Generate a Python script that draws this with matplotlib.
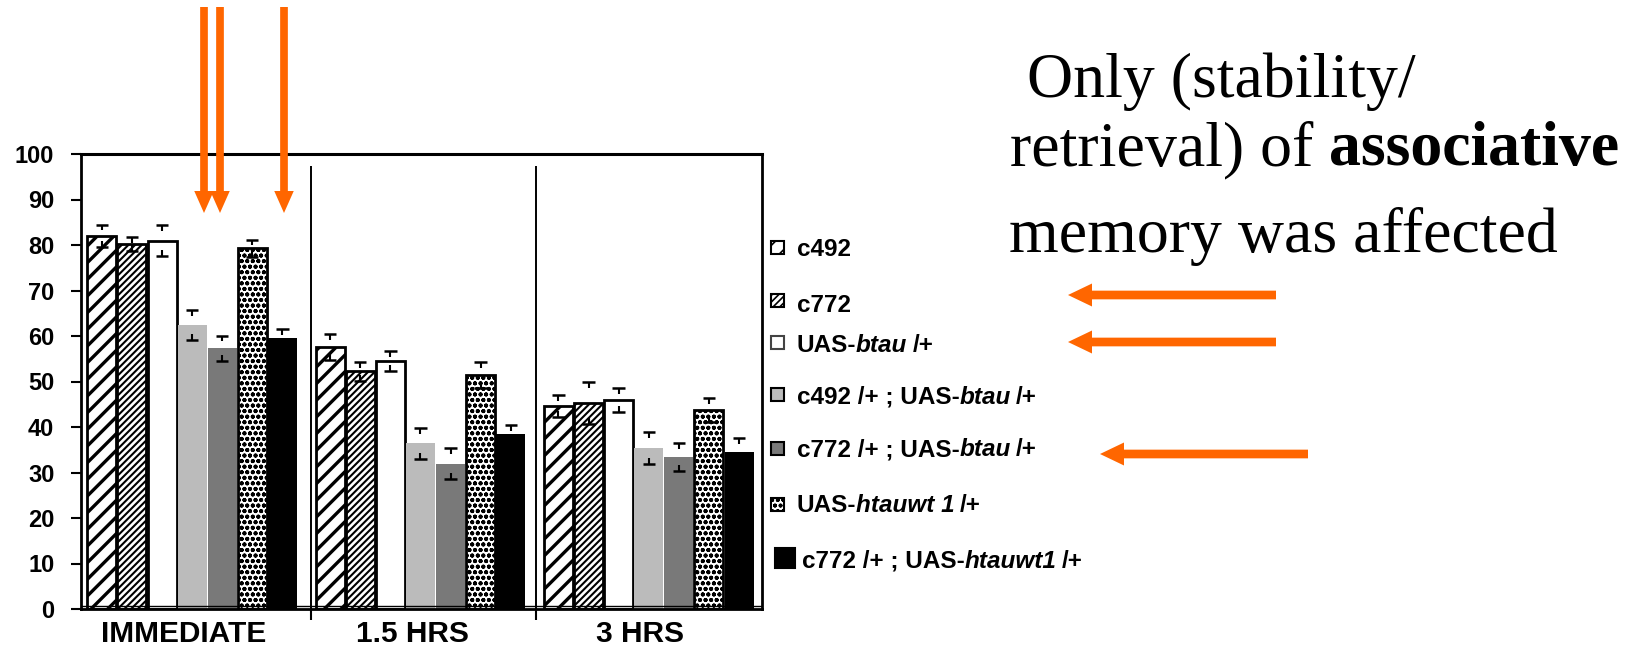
import numpy as np
import matplotlib
matplotlib.use("Agg")
import matplotlib.pyplot as plt
from matplotlib.patches import Rectangle, FancyArrow

plt.rcParams['font.family'] = ['Liberation Sans', 'DejaVu Sans']
plt.rcParams['hatch.linewidth'] = 1.8

# ---------------- data ----------------
groups = ["IMMEDIATE", "1.5 HRS", "3 HRS"]
yticks = [0, 10, 20, 30, 40, 50, 60, 70, 80, 90, 100]

c492 = [82.0, 57.6, 44.6]
c492_err = [2.5, 2.8, 2.4]
c772 = [80.2, 52.2, 45.3]
c772_err = [1.6, 2.0, 4.6]
uas_btau = [80.9, 54.5, 45.9]
uas_btau_err = [3.4, 2.1, 2.6]
c492_btau = [62.4, 36.4, 35.3]
c492_btau_err = [3.3, 3.4, 3.5]
c772_btau = [57.3, 31.9, 33.4]
c772_btau_err = [2.8, 3.4, 3.0]
uas_htau = [79.3, 51.4, 43.7]
uas_htau_err = [1.9, 2.9, 2.6]
c772_htau = [59.5, 38.4, 34.6]
c772_htau_err = [2.0, 2.0, 3.0]

values = [c492, c772, uas_btau, c492_btau, c772_btau, uas_htau, c772_htau]
errors = [c492_err, c772_err, uas_btau_err, c492_btau_err, c772_btau_err,
          uas_htau_err, c772_htau_err]

# legend label pieces: (text, italic?)
legend_parts = [
    [("c492", False)],
    [("c772", False)],
    [("UAS-", False), ("btau", True), (" /+", False)],
    [("c492 /+ ; UAS-", False), ("btau", True), (" /+", False)],
    [("c772 /+ ; UAS-", False), ("btau", True), (" /+", False)],
    [("UAS-", False), ("htauwt 1", True), (" /+", False)],
    [("c772 /+ ; UAS-", False), ("htauwt1", True), (" /+", False)],
]

# styles: facecolor, hatch, edgecolor, linewidth, hatch linewidth
styles = [
    ("white", "//", "black", 2.0, 2.4),
    ("white", "/////", "black", 2.0, 1.5),
    ("white", None, "black", 2.0, 1.0),
    ("#bbbbbb", None, "none", 0.0, 1.0),
    ("#797979", None, "none", 0.0, 1.0),
    ("white", "ooo", "black", 2.0, 1.3),
    ("black", None, "none", 0.0, 1.0),
]

W, H = 1635, 651
fig = plt.figure(figsize=(W / 100, H / 100), dpi=100)

# ---------------- main axes ----------------
L, R, T, B = 80.7, 762, 154, 609
ax = fig.add_axes([L / W, (H - B) / H, (R - L) / W, (B - T) / H])

nser = len(values)
pitch = 0.1318
bw = 0.127
x = np.arange(len(groups))
for i, (vals, errs) in enumerate(zip(values, errors)):
    fc, hatch, ec, lw, hlw = styles[i]
    pos = x + (i - (nser - 1) / 2) * pitch
    with plt.rc_context({'hatch.linewidth': hlw}):
        bars = ax.bar(pos, vals, width=bw, color=fc, hatch=hatch,
                      edgecolor=ec, linewidth=lw, zorder=2)
    for b in bars:
        if hasattr(b, "set_hatch_linewidth"):
            b.set_hatch_linewidth(hlw)
        else:
            b._hatch_linewidth = hlw
    vals = np.asarray(vals)
    errs = np.asarray(errs)
    capw = 0.027
    stem = 1.3
    top = vals + errs
    low = vals - errs
    ax.hlines(top, pos - capw, pos + capw, color="black", lw=1.8, zorder=4)
    ax.vlines(pos, top - stem, top, color="black", lw=1.5, zorder=4)
    ax.hlines(low, pos - capw, pos + capw, color="black", lw=1.8, zorder=4)
    ax.vlines(pos, low, low + stem, color="black", lw=1.5, zorder=4)

ax.set_xlim(-0.488, 2.496)
ax.set_ylim(0, 100)

# group dividers
ax.vlines([0.52, 1.505], 0, 97.4, color="black", lw=1.4, zorder=3)
ax.axhline(0.75, color="black", lw=1.0, zorder=3)

ax.set_yticks(yticks)
ax.set_yticklabels([str(v) for v in yticks], fontsize=17, fontweight="bold")
ax.tick_params(axis="y", direction="out", length=7, width=1.5, pad=12)

ax.set_xticks([-0.036, 0.967, 1.961])
ax.set_xticklabels(groups, fontsize=21.5, fontweight="bold")
ax.tick_params(axis="x", which="major", length=0, pad=8)
ax.set_xticks([0.52, 1.505], minor=True)
ax.tick_params(axis="x", which="minor", direction="out", length=8, width=1.5)

for s in ax.spines.values():
    s.set_linewidth(2.0)
ax.spines["top"].set_linewidth(2.2)

# ---------------- overlay (pixel coordinates) ----------------
ov = fig.add_axes([0, 0, 1, 1], zorder=10)
ov.set_xlim(0, W)
ov.set_ylim(H, 0)
ov.axis("off")
ov.patch.set_alpha(0)

fig.canvas.draw()
renderer = fig.canvas.get_renderer()


def text_width(s, **kw):
    t = ov.text(0, 0, s, **kw)
    w = t.get_window_extent(renderer).width
    t.remove()
    return w


def rich(xs, ybase, parts, size, family, base_weight="bold", gap=0.0, spf=1.0):
    kw0 = dict(fontsize=size, family=family)
    sp = (text_width("a a", weight=base_weight, **kw0)
          - text_width("aa", weight=base_weight, **kw0)) * spf
    xc = xs
    for txt, style in parts:
        weight = base_weight
        fstyle = "normal"
        if style is True:
            fstyle = "italic"
        elif style == "bold":
            weight = "bold"
        elif style == "normal":
            weight = "normal"
        lead = len(txt) - len(txt.lstrip(" "))
        trail = len(txt) - len(txt.rstrip(" "))
        core = txt.strip(" ")
        xc += lead * sp
        t = ov.text(xc, ybase, core, fontsize=size, family=family,
                    weight=weight, style=fstyle, ha="left", va="baseline")
        xc += t.get_window_extent(renderer).width + gap
        xc += trail * sp


# legend
leg_text_y = [248, 303, 344, 395, 448, 504, 559]
leg_mark_y = [247, 300, 342, 394, 448, 504, 558]
for i, parts in enumerate(legend_parts):
    fc, hatch, ec, lw, hlw = styles[i]
    if i < 6:
        sz, mx = 13, 771
        tx = 797
    else:
        sz, mx = 20, 775
        tx = 802
    ecol = "black" if ec == "none" else ec
    if i == 2:
        ecol = "#444444"
    r = Rectangle((mx, leg_mark_y[i] - sz / 2), sz, sz, facecolor=fc,
                  hatch=hatch, edgecolor=ecol, linewidth=1.5)
    if hasattr(r, "set_hatch_linewidth"):
        r.set_hatch_linewidth(min(hlw, 1.2))
    ov.add_patch(r)
    rich(tx, leg_text_y[i] + 8.5, parts, 17.5, ["Liberation Sans", "DejaVu Sans"],
         gap=-0.5, spf=0.85)

# right-hand statement
serif = ["Liberation Serif", "DejaVu Serif"]
rich(1027, 97, [("Only (stability/", "normal")], 46, serif, base_weight="normal")
rich(1010, 165, [("retrieval) of ", "normal"), ("associative", "bold")], 46, serif,
     base_weight="normal")
rich(1009, 252, [("memory was affected", "normal")], 46, serif, base_weight="normal")

# orange arrows
orange = "#ff6600"
for xa in [204, 220, 284]:
    ov.add_patch(FancyArrow(xa, 7, 0, 206, width=7.7, head_width=19.5,
                            head_length=22, length_includes_head=True,
                            color=orange, lw=0))
for (x0, x1, ya) in [(1276, 1068, 295), (1276, 1068, 342), (1308, 1100, 454)]:
    ov.add_patch(FancyArrow(x0, ya, x1 - x0, 0, width=8.7, head_width=23,
                            head_length=24, length_includes_head=True,
                            color=orange, lw=0))

fig.savefig("out.png", dpi=100)
